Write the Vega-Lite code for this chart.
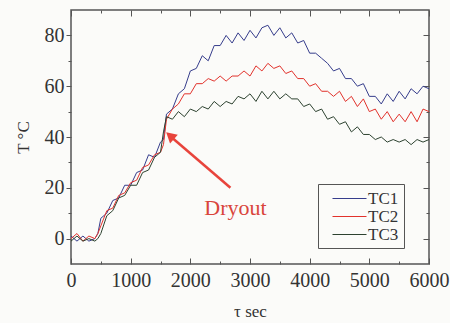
{
  "$schema": "https://vega.github.io/schema/vega-lite/v6.json",
  "width": 358,
  "height": 254,
  "autosize": {"type": "none"},
  "padding": {"left": 71, "top": 10, "right": 21, "bottom": 59},
  "background": "#fbfbf9",
  "config": {
    "font": "Liberation Serif",
    "view": {"stroke": "#555555", "strokeWidth": 1.5},
    "axis": {"grid": false, "domain": false, "labelFont": "Liberation Serif", "titleFont": "Liberation Serif", "labelColor": "#333333", "titleColor": "#333333", "tickColor": "#555555", "labelFontSize": 20, "titleFontSize": 17, "titleFontWeight": "normal", "labelFlush": false, "labelOverlap": false}
  },
  "datasets": {
    "temps": [
      {"t": 0, "T": 1, "s": "TC1"}, {"t": 100, "T": -1, "s": "TC1"}, {"t": 200, "T": 1, "s": "TC1"}, {"t": 300, "T": -1, "s": "TC1"}, {"t": 400, "T": 0, "s": "TC1"}, {"t": 450, "T": 2, "s": "TC1"},
      {"t": 500, "T": 8, "s": "TC1"}, {"t": 600, "T": 10, "s": "TC1"}, {"t": 700, "T": 15, "s": "TC1"}, {"t": 800, "T": 16, "s": "TC1"}, {"t": 900, "T": 21, "s": "TC1"}, {"t": 1000, "T": 21, "s": "TC1"},
      {"t": 1100, "T": 26, "s": "TC1"}, {"t": 1200, "T": 27, "s": "TC1"}, {"t": 1300, "T": 33, "s": "TC1"}, {"t": 1400, "T": 32, "s": "TC1"}, {"t": 1500, "T": 38, "s": "TC1"}, {"t": 1550, "T": 39, "s": "TC1"},
      {"t": 1600, "T": 49, "s": "TC1"}, {"t": 1700, "T": 51, "s": "TC1"}, {"t": 1800, "T": 57, "s": "TC1"}, {"t": 1900, "T": 59, "s": "TC1"}, {"t": 2000, "T": 66, "s": "TC1"}, {"t": 2100, "T": 67, "s": "TC1"},
      {"t": 2200, "T": 72, "s": "TC1"}, {"t": 2300, "T": 70, "s": "TC1"}, {"t": 2400, "T": 76, "s": "TC1"}, {"t": 2500, "T": 76, "s": "TC1"}, {"t": 2600, "T": 80, "s": "TC1"}, {"t": 2700, "T": 77, "s": "TC1"},
      {"t": 2800, "T": 81, "s": "TC1"}, {"t": 2900, "T": 78, "s": "TC1"}, {"t": 3000, "T": 82, "s": "TC1"}, {"t": 3100, "T": 79, "s": "TC1"}, {"t": 3200, "T": 83, "s": "TC1"}, {"t": 3300, "T": 84, "s": "TC1"},
      {"t": 3400, "T": 80, "s": "TC1"}, {"t": 3500, "T": 83, "s": "TC1"}, {"t": 3600, "T": 79, "s": "TC1"}, {"t": 3700, "T": 81, "s": "TC1"}, {"t": 3800, "T": 77, "s": "TC1"}, {"t": 3900, "T": 78, "s": "TC1"},
      {"t": 4000, "T": 73, "s": "TC1"}, {"t": 4100, "T": 73, "s": "TC1"}, {"t": 4200, "T": 71, "s": "TC1"}, {"t": 4300, "T": 69, "s": "TC1"}, {"t": 4400, "T": 66, "s": "TC1"}, {"t": 4500, "T": 67, "s": "TC1"},
      {"t": 4600, "T": 63, "s": "TC1"}, {"t": 4700, "T": 63, "s": "TC1"}, {"t": 4800, "T": 60, "s": "TC1"}, {"t": 4900, "T": 61, "s": "TC1"}, {"t": 5000, "T": 56, "s": "TC1"}, {"t": 5100, "T": 56, "s": "TC1"},
      {"t": 5200, "T": 53, "s": "TC1"}, {"t": 5300, "T": 57, "s": "TC1"}, {"t": 5400, "T": 54, "s": "TC1"}, {"t": 5500, "T": 58, "s": "TC1"}, {"t": 5600, "T": 55, "s": "TC1"}, {"t": 5700, "T": 59, "s": "TC1"},
      {"t": 5800, "T": 57, "s": "TC1"}, {"t": 5900, "T": 60, "s": "TC1"}, {"t": 6000, "T": 59, "s": "TC1"},

      {"t": 0, "T": 0, "s": "TC2"}, {"t": 100, "T": 2, "s": "TC2"}, {"t": 200, "T": -1, "s": "TC2"}, {"t": 300, "T": 1, "s": "TC2"}, {"t": 400, "T": 0, "s": "TC2"}, {"t": 450, "T": 2, "s": "TC2"},
      {"t": 500, "T": 5, "s": "TC2"}, {"t": 600, "T": 11, "s": "TC2"}, {"t": 700, "T": 12, "s": "TC2"}, {"t": 800, "T": 17, "s": "TC2"}, {"t": 900, "T": 18, "s": "TC2"}, {"t": 1000, "T": 22, "s": "TC2"},
      {"t": 1100, "T": 23, "s": "TC2"}, {"t": 1200, "T": 28, "s": "TC2"}, {"t": 1300, "T": 29, "s": "TC2"}, {"t": 1400, "T": 33, "s": "TC2"}, {"t": 1500, "T": 34, "s": "TC2"}, {"t": 1550, "T": 37, "s": "TC2"},
      {"t": 1600, "T": 47, "s": "TC2"}, {"t": 1700, "T": 51, "s": "TC2"}, {"t": 1800, "T": 53, "s": "TC2"}, {"t": 1900, "T": 57, "s": "TC2"}, {"t": 2000, "T": 57, "s": "TC2"}, {"t": 2100, "T": 61, "s": "TC2"},
      {"t": 2200, "T": 61, "s": "TC2"}, {"t": 2300, "T": 63, "s": "TC2"}, {"t": 2400, "T": 62, "s": "TC2"}, {"t": 2500, "T": 64, "s": "TC2"}, {"t": 2600, "T": 62, "s": "TC2"}, {"t": 2700, "T": 64, "s": "TC2"},
      {"t": 2800, "T": 64, "s": "TC2"}, {"t": 2900, "T": 66, "s": "TC2"}, {"t": 3000, "T": 64, "s": "TC2"}, {"t": 3100, "T": 68, "s": "TC2"}, {"t": 3200, "T": 66, "s": "TC2"}, {"t": 3300, "T": 69, "s": "TC2"},
      {"t": 3400, "T": 67, "s": "TC2"}, {"t": 3500, "T": 68, "s": "TC2"}, {"t": 3600, "T": 65, "s": "TC2"}, {"t": 3700, "T": 66, "s": "TC2"}, {"t": 3800, "T": 63, "s": "TC2"}, {"t": 3900, "T": 63, "s": "TC2"},
      {"t": 4000, "T": 60, "s": "TC2"}, {"t": 4100, "T": 61, "s": "TC2"}, {"t": 4200, "T": 58, "s": "TC2"}, {"t": 4300, "T": 58, "s": "TC2"}, {"t": 4400, "T": 56, "s": "TC2"}, {"t": 4500, "T": 58, "s": "TC2"},
      {"t": 4600, "T": 54, "s": "TC2"}, {"t": 4700, "T": 56, "s": "TC2"}, {"t": 4800, "T": 52, "s": "TC2"}, {"t": 4900, "T": 55, "s": "TC2"}, {"t": 5000, "T": 50, "s": "TC2"}, {"t": 5100, "T": 51, "s": "TC2"},
      {"t": 5200, "T": 47, "s": "TC2"}, {"t": 5300, "T": 50, "s": "TC2"}, {"t": 5400, "T": 46, "s": "TC2"}, {"t": 5500, "T": 49, "s": "TC2"}, {"t": 5600, "T": 46, "s": "TC2"}, {"t": 5700, "T": 50, "s": "TC2"},
      {"t": 5800, "T": 46, "s": "TC2"}, {"t": 5900, "T": 51, "s": "TC2"}, {"t": 6000, "T": 50, "s": "TC2"},

      {"t": 0, "T": -1, "s": "TC3"}, {"t": 100, "T": 1, "s": "TC3"}, {"t": 200, "T": -1, "s": "TC3"}, {"t": 300, "T": 0, "s": "TC3"}, {"t": 400, "T": -1, "s": "TC3"}, {"t": 450, "T": 0, "s": "TC3"},
      {"t": 500, "T": 2, "s": "TC3"}, {"t": 600, "T": 9, "s": "TC3"}, {"t": 700, "T": 11, "s": "TC3"}, {"t": 800, "T": 16, "s": "TC3"}, {"t": 900, "T": 17, "s": "TC3"}, {"t": 1000, "T": 21, "s": "TC3"},
      {"t": 1100, "T": 21, "s": "TC3"}, {"t": 1200, "T": 26, "s": "TC3"}, {"t": 1300, "T": 27, "s": "TC3"}, {"t": 1400, "T": 32, "s": "TC3"}, {"t": 1500, "T": 34, "s": "TC3"}, {"t": 1550, "T": 42, "s": "TC3"},
      {"t": 1600, "T": 48, "s": "TC3"}, {"t": 1700, "T": 47, "s": "TC3"}, {"t": 1800, "T": 50, "s": "TC3"}, {"t": 1900, "T": 48, "s": "TC3"}, {"t": 2000, "T": 51, "s": "TC3"}, {"t": 2100, "T": 50, "s": "TC3"},
      {"t": 2200, "T": 52, "s": "TC3"}, {"t": 2300, "T": 51, "s": "TC3"}, {"t": 2400, "T": 54, "s": "TC3"}, {"t": 2500, "T": 52, "s": "TC3"}, {"t": 2600, "T": 54, "s": "TC3"}, {"t": 2700, "T": 53, "s": "TC3"},
      {"t": 2800, "T": 56, "s": "TC3"}, {"t": 2900, "T": 55, "s": "TC3"}, {"t": 3000, "T": 57, "s": "TC3"}, {"t": 3100, "T": 54, "s": "TC3"}, {"t": 3200, "T": 58, "s": "TC3"}, {"t": 3300, "T": 55, "s": "TC3"},
      {"t": 3400, "T": 58, "s": "TC3"}, {"t": 3500, "T": 55, "s": "TC3"}, {"t": 3600, "T": 57, "s": "TC3"}, {"t": 3700, "T": 55, "s": "TC3"}, {"t": 3800, "T": 55, "s": "TC3"}, {"t": 3900, "T": 52, "s": "TC3"},
      {"t": 4000, "T": 53, "s": "TC3"}, {"t": 4100, "T": 50, "s": "TC3"}, {"t": 4200, "T": 51, "s": "TC3"}, {"t": 4300, "T": 47, "s": "TC3"}, {"t": 4400, "T": 48, "s": "TC3"}, {"t": 4500, "T": 45, "s": "TC3"},
      {"t": 4600, "T": 46, "s": "TC3"}, {"t": 4700, "T": 42, "s": "TC3"}, {"t": 4800, "T": 44, "s": "TC3"}, {"t": 4900, "T": 41, "s": "TC3"}, {"t": 5000, "T": 41, "s": "TC3"}, {"t": 5100, "T": 39, "s": "TC3"},
      {"t": 5200, "T": 40, "s": "TC3"}, {"t": 5300, "T": 38, "s": "TC3"}, {"t": 5400, "T": 39, "s": "TC3"}, {"t": 5500, "T": 38, "s": "TC3"}, {"t": 5600, "T": 39, "s": "TC3"}, {"t": 5700, "T": 37, "s": "TC3"},
      {"t": 5800, "T": 39, "s": "TC3"}, {"t": 5900, "T": 38, "s": "TC3"}, {"t": 6000, "T": 39, "s": "TC3"}
    ],
    "note": [{"t": 2756, "T": 12, "label": "Dryout"}],
    "arrow": [{"t": 2672, "T": 20, "t2": 1680, "T2": 40}],
    "head": [{"t": 1660, "T": 40.5}]
  },
  "layer": [
    {
      "data": {"name": "temps"},
      "mark": {"type": "line", "strokeWidth": 1},
      "encoding": {
        "x": {"field": "t", "type": "quantitative", "scale": {"domain": [0, 6000], "nice": false},
          "axis": {"title": "τ  sec", "format": "d", "labelFont": "Liberation Serif", "titleFont": "Liberation Serif", "values": [0, 500, 1000, 1500, 2000, 2500, 3000, 3500, 4000, 4500, 5000, 5500, 6000],
            "labelExpr": "datum.value % 1000 === 0 ? datum.label : ''", "labelPadding": 12, "titlePadding": 10,
            "tickSize": {"condition": {"test": "datum.value % 1000 === 0", "value": -6}, "value": -3}}},
        "y": {"field": "T", "type": "quantitative", "scale": {"domain": [-10, 90], "nice": false, "zero": false},
          "axis": {"title": "T  °C", "labelFont": "Liberation Serif", "titleFont": "Liberation Serif", "values": [0, 10, 20, 30, 40, 50, 60, 70, 80],
            "labelExpr": "datum.value % 20 === 0 ? datum.label : ''", "labelPadding": 2, "titlePadding": 12,
            "tickSize": {"condition": {"test": "datum.value % 20 === 0", "value": 5}, "value": 3}}},
        "color": {"field": "s", "type": "nominal",
          "scale": {"domain": ["TC1", "TC2", "TC3"], "range": ["#363d8c", "#e2322c", "#2d4230"]},
          "legend": {"title": null, "orient": "none", "legendX": 247, "legendY": 174, "symbolType": "M0,0H4", "symbolSize": 289,
            "symbolStrokeWidth": 1.2, "labelFont": "Liberation Serif", "labelFontSize": 17, "labelColor": "#333333", "labelOffset": 26,
            "strokeColor": "#555555", "padding": 5, "rowPadding": 0, "fillColor": "#fbfbf9"}}
      }
    },
    {
      "data": {"name": "arrow"},
      "mark": {"type": "rule", "color": "#e8443c", "strokeWidth": 2.5},
      "encoding": {
        "x": {"field": "t", "type": "quantitative", "axis": {"orient": "top", "title": null, "labels": false, "values": [0, 500, 1000, 1500, 2000, 2500, 3000, 3500, 4000, 4500, 5000, 5500, 6000],
          "tickSize": {"condition": {"test": "datum.value % 1000 === 0", "value": -6}, "value": -3}}},
        "y": {"field": "T", "type": "quantitative", "axis": {"orient": "right", "title": null, "labels": false, "values": [0, 10, 20, 30, 40, 50, 60, 70, 80],
          "tickSize": {"condition": {"test": "datum.value % 20 === 0", "value": -6}, "value": -3}}},
        "x2": {"field": "t2"},
        "y2": {"field": "T2"}
      }
    },
    {
      "data": {"name": "head"},
      "mark": {"type": "point", "shape": "triangle-up", "filled": true, "color": "#e8443c", "size": 140, "angle": 311, "opacity": 1},
      "encoding": {
        "x": {"field": "t", "type": "quantitative", "axis": null},
        "y": {"field": "T", "type": "quantitative", "axis": null}
      }
    },
    {
      "data": {"name": "note"},
      "mark": {"type": "text", "color": "#d9453c", "fontSize": 22, "font": "Liberation Serif"},
      "encoding": {
        "x": {"field": "t", "type": "quantitative", "axis": null},
        "y": {"field": "T", "type": "quantitative", "axis": null},
        "text": {"field": "label"}
      }
    }
  ],
  "resolve": {"axis": {"x": "independent", "y": "independent"}}
}
